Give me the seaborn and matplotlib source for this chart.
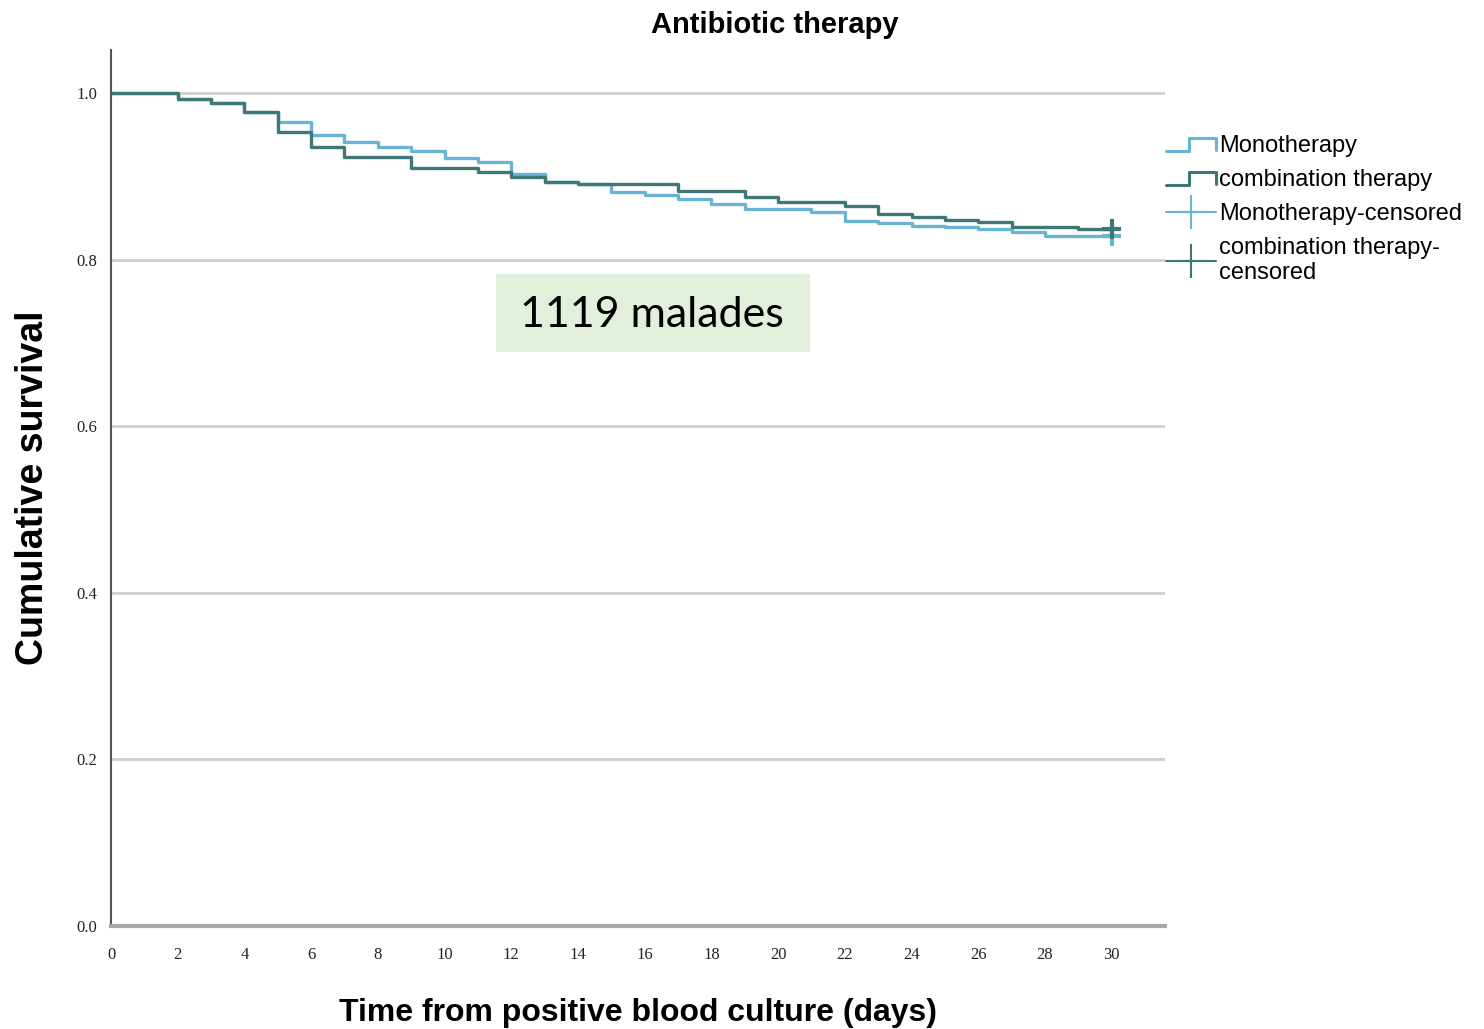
import matplotlib
matplotlib.use("Agg")
import matplotlib.pyplot as plt
from matplotlib.lines import Line2D
from matplotlib.legend_handler import HandlerBase
from matplotlib.patches import Rectangle
import seaborn as sns
import pandas as pd

# Kaplan-Meier step estimates (day of event, survival after the event)
mono_days = [0, 2, 3, 4, 5, 6, 7, 8, 9, 10, 11, 12, 13, 14, 15, 16, 17, 18, 19,
             21, 22, 23, 24, 25, 26, 27, 28, 30]
mono_surv = [1.000, 0.993, 0.988, 0.978, 0.965, 0.950, 0.941, 0.935, 0.931, 0.922,
             0.917, 0.903, 0.893, 0.891, 0.881, 0.878, 0.873, 0.867, 0.861,
             0.857, 0.847, 0.844, 0.841, 0.840, 0.837, 0.834, 0.829, 0.829]

comb_days = [0, 2, 3, 4, 5, 6, 7, 9, 11, 12, 13, 14, 17, 19, 20, 22, 23, 24, 25,
             26, 27, 29, 30]
comb_surv = [1.000, 0.993, 0.988, 0.978, 0.953, 0.935, 0.923, 0.910, 0.905, 0.899,
             0.893, 0.891, 0.883, 0.875, 0.869, 0.865, 0.855, 0.851, 0.848,
             0.845, 0.840, 0.837, 0.837]

groups = ["Monotherapy", "combination therapy"]
censor_day = 30
x_ticks = list(range(0, 31, 2))
y_ticks = [0.0, 0.2, 0.4, 0.6, 0.8, 1.0]

mono_color = "#68b4d4"
comb_color = "#3f7676"
palette = {groups[0]: mono_color, groups[1]: comb_color}

curves = pd.concat([
    pd.DataFrame({"day": mono_days, "survival": mono_surv, "group": groups[0]}),
    pd.DataFrame({"day": comb_days, "survival": comb_surv, "group": groups[1]}),
], ignore_index=True)
censored = pd.DataFrame({
    "day": [censor_day, censor_day],
    "survival": [mono_surv[-1], comb_surv[-1]],
    "group": groups,
})

sns.set_style("white")
plt.rcParams["font.family"] = ["Liberation Sans", "DejaVu Sans"]
plt.rcParams["text.color"] = "black"
plt.rcParams["axes.labelcolor"] = "black"
plt.rcParams["xtick.color"] = "#222222"
plt.rcParams["ytick.color"] = "#222222"

fig = plt.figure(figsize=(14.84, 10.29), dpi=100)
ax = fig.add_axes([111 / 1484, 1 - 926 / 1029, (1165 - 111) / 1484, (926 - 50) / 1029])

for y in y_ticks[1:]:
    ax.axhline(y, color="#cfcfcf", lw=2.0, zorder=0)

sns.lineplot(data=curves, x="day", y="survival", hue="group", palette=palette,
             drawstyle="steps-post", estimator=None, lw=2.4, legend=False, ax=ax)
sns.scatterplot(data=censored, x="day", y="survival", hue="group", palette=palette,
                marker="+", s=200, linewidth=3, legend=False, ax=ax, zorder=5)

ax.set_xlim(0, 31.6)
ax.set_ylim(0, 1.0 + 0.052)
ax.set_xticks(x_ticks)
ax.set_xticklabels([str(t) for t in x_ticks], family="Liberation Serif", fontsize=12)
ax.set_yticks(y_ticks)
ax.set_yticklabels([f"{t:.1f}" for t in y_ticks], family="Liberation Serif", fontsize=12)
ax.tick_params(axis="x", length=0, pad=15)
ax.tick_params(axis="y", length=0, pad=10)
for side in ("top", "right"):
    ax.spines[side].set_visible(False)
ax.spines["left"].set_color("#555555")
ax.spines["left"].set_linewidth(1.5)
ax.spines["bottom"].set_color("#a8a8a8")
ax.spines["bottom"].set_linewidth(3)

ax.set_xlabel("Time from positive blood culture (days)", fontweight="bold",
              fontsize=23, labelpad=25)
ax.set_ylabel("Cumulative survival", fontweight="bold", fontsize=27, labelpad=18)
fig.text(775 / 1484, 1 - 25 / 1029, "Antibiotic therapy", ha="center", va="center",
         fontweight="bold", fontsize=21)

# patient count box
fig.patches.append(Rectangle((496 / 1484, 1 - 352 / 1029), (810 - 496) / 1484, (352 - 274) / 1029,
                             transform=fig.transFigure, facecolor="#e2efda", edgecolor="none",
                             zorder=3))
fig.text(652 / 1484, 1 - 315 / 1029, "1119 malades", ha="center", va="center",
         family=["Lato", "DejaVu Sans"], fontsize=31, zorder=4)


class StepHandler(HandlerBase):
    def create_artists(self, legend, orig, xdescent, ydescent, width, height, fontsize, trans):
        w, h = width, height
        xs = [0, 0.45 * w, 0.45 * w, w, w]
        ys = [0.05 * h, 0.05 * h, 0.85 * h, 0.85 * h, 0.15 * h]
        line = Line2D(xs, ys, color=orig.get_color(), lw=2.2, transform=trans)
        return [line]


handles = [
    Line2D([], [], color=mono_color),
    Line2D([], [], color=comb_color),
    Line2D([], [], color=mono_color, marker="+", markersize=24, markeredgewidth=1.5, lw=1.5),
    Line2D([], [], color=comb_color, marker="+", markersize=24, markeredgewidth=1.5, lw=1.5),
]
labels = ["Monotherapy", "combination therapy", "Monotherapy-censored",
          "combination therapy-\ncensored"]
fig.legend(handles, labels, loc="upper left", bbox_to_anchor=(1145 / 1484, 1 - 114 / 1029),
           frameon=False, prop={"family": "Liberation Sans", "size": 17}, handlelength=2.1,
           handletextpad=0.15, labelspacing=0.5,
           handler_map={handles[0]: StepHandler(), handles[1]: StepHandler()})

fig.savefig("out.png", dpi=100, facecolor="white")
